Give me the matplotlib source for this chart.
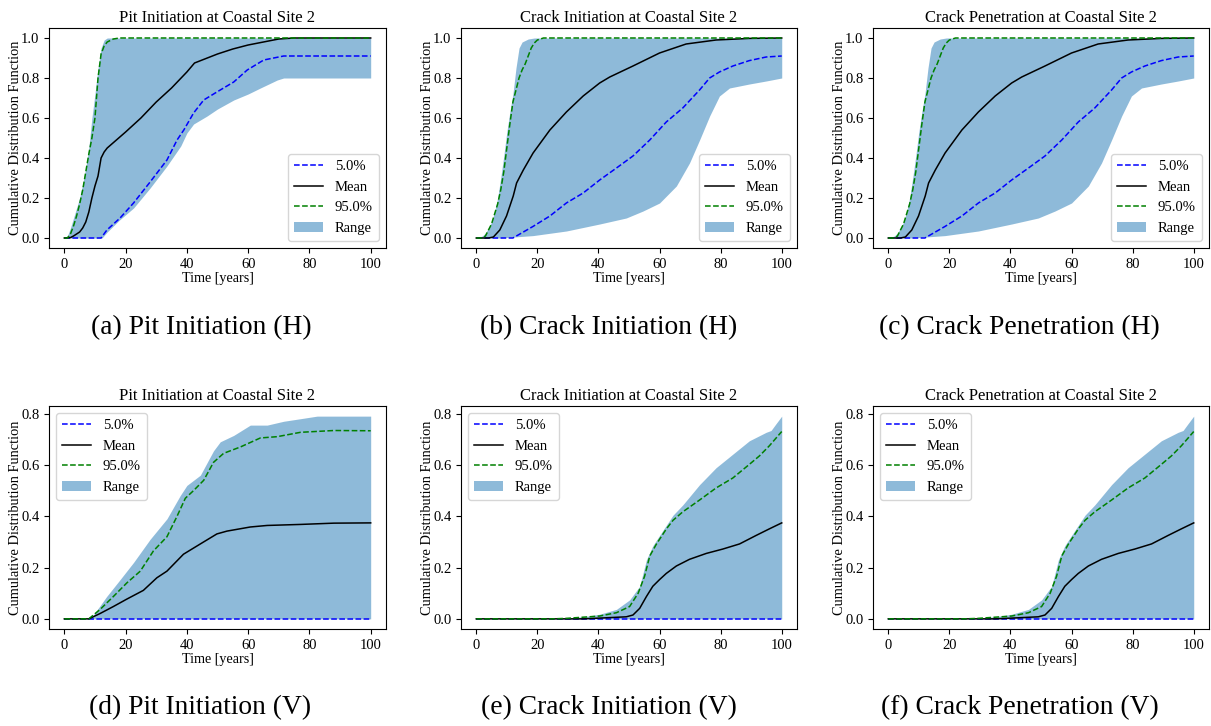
import matplotlib
matplotlib.use("Agg")
import matplotlib.pyplot as plt
import numpy as np

plt.rcParams['font.family'] = ['Liberation Serif', 'DejaVu Serif']
plt.rcParams['mathtext.fontset'] = 'stix'

# ---------------- data ----------------
# (a) Pit Initiation (H)
a_up_t = [0, 1, 2, 3, 4, 5, 6, 7, 8, 9, 10, 11, 12, 13, 14, 100]
a_up_v = [0, 0.01, 0.05, 0.1, 0.15, 0.2, 0.27, 0.35, 0.45, 0.6, 0.72, 0.85, 0.95, 0.99, 1.0, 1.0]
a_lo_t = [0, 12.3, 14, 18, 22.6, 28, 33.5, 38, 40, 42.2, 46.6, 50, 55.3, 60, 64, 69.5, 71.6, 100]
a_lo_v = [0, 0, 0.03, 0.09, 0.15, 0.25, 0.36, 0.46, 0.525, 0.57, 0.61, 0.645, 0.69, 0.72, 0.75, 0.79, 0.80, 0.80]
a_p95_t = [0, 1, 2, 3, 4, 5, 6, 7, 8, 9, 10, 11, 12, 13, 14, 16, 18, 100]
a_p95_v = [0, 0, 0.02, 0.06, 0.11, 0.17, 0.24, 0.33, 0.42, 0.5, 0.6, 0.8, 0.92, 0.96, 0.98, 0.995, 1.0, 1.0]
a_mean_t = [0, 2, 3, 4, 5, 6, 7, 8, 9, 10, 11, 12, 13, 14, 20, 25, 30, 35, 40, 42.5, 45, 50, 55, 60, 65, 70, 75, 100]
a_mean_v = [0, 0.002, 0.01, 0.02, 0.03, 0.05, 0.08, 0.13, 0.2, 0.26, 0.31, 0.4, 0.43, 0.45, 0.53, 0.6, 0.68, 0.75, 0.83, 0.875, 0.89, 0.92, 0.945, 0.965, 0.98, 0.995, 1.0, 1.0]
a_p5_t = [0, 12, 13.9, 18.2, 22.6, 28, 33.5, 36.8, 39, 42.2, 45.5, 49.8, 55.3, 59.7, 65.1, 71.6, 100]
a_p5_v = [0, 0, 0.04, 0.1, 0.175, 0.28, 0.39, 0.49, 0.54, 0.625, 0.69, 0.73, 0.78, 0.84, 0.89, 0.91, 0.91]

# (b) Crack Initiation (H)
b_up_t = [0, 2, 3, 4, 5, 6, 7, 8, 9, 10, 11, 12, 13, 14, 15, 17, 19, 100]
b_up_v = [0, 0.01, 0.025, 0.05, 0.08, 0.13, 0.2, 0.3, 0.41, 0.53, 0.63, 0.72, 0.85, 0.95, 0.98, 0.995, 1.0, 1.0]
b_lo_t = [0, 7.7, 18.6, 29.5, 40.4, 49.1, 54.6, 60, 65.5, 69.8, 73.1, 76.4, 79.6, 82.9, 89.4, 94.9, 100]
b_lo_v = [0, 0.0, 0.012, 0.035, 0.07, 0.1, 0.135, 0.175, 0.26, 0.375, 0.49, 0.61, 0.71, 0.75, 0.77, 0.785, 0.80]
b_p95_t = [0, 2, 3, 4, 5, 6, 7, 8, 9, 10, 11, 12, 13, 14, 15, 16, 17, 18, 19, 20, 22, 100]
b_p95_v = [0, 0, 0.01, 0.04, 0.07, 0.12, 0.17, 0.24, 0.33, 0.45, 0.57, 0.68, 0.74, 0.8, 0.84, 0.87, 0.91, 0.95, 0.975, 0.99, 1.0, 1.0]
b_mean_t = [0, 4, 5.6, 7.7, 9.9, 12.1, 13.2, 15.4, 18.6, 24.1, 29.5, 35, 40.4, 43.7, 51.3, 60, 68.7, 78.5, 89.4, 100]
b_mean_v = [0, 0.0, 0.005, 0.04, 0.11, 0.21, 0.275, 0.34, 0.425, 0.54, 0.63, 0.71, 0.775, 0.805, 0.86, 0.925, 0.97, 0.99, 0.998, 1.0]
b_p5_t = [0, 12, 18.6, 24.1, 29.5, 35, 40.4, 45.9, 51.3, 56.8, 62.2, 67.6, 73.1, 76.4, 79.6, 84, 89.4, 94.9, 100]
b_p5_v = [0, 0, 0.058, 0.11, 0.175, 0.225, 0.29, 0.35, 0.41, 0.49, 0.58, 0.65, 0.74, 0.8, 0.83, 0.86, 0.887, 0.905, 0.91]

# (c) Crack Penetration (H)
c_up_t, c_up_v = list(b_up_t), list(b_up_v)
c_lo_t, c_lo_v = list(b_lo_t), list(b_lo_v)
c_p95_t, c_p95_v = list(b_p95_t), list(b_p95_v)
c_mean_t, c_mean_v = list(b_mean_t), list(b_mean_v)
c_p5_t, c_p5_v = list(b_p5_t), list(b_p5_v)

# (d) Pit Initiation (V)
d_up_t = [0, 7, 9.5, 13.8, 18.2, 22.6, 28, 33.5, 37.8, 40, 44.4, 48.7, 50.9, 55.3, 60.7, 66.2, 71.6, 77.1, 82.5, 100]
d_up_v = [0, 0, 0.015, 0.087, 0.153, 0.22, 0.31, 0.39, 0.48, 0.52, 0.56, 0.655, 0.69, 0.715, 0.755, 0.755, 0.77, 0.78, 0.79, 0.79]
d_lo_t = [0, 100]
d_lo_v = [0, 0]
d_p95_t = [0, 8, 11.7, 16, 20.4, 24.8, 29.1, 33.5, 36.8, 39.5, 42.2, 45.5, 48.7, 52, 57.5, 64, 69.5, 77.1, 88, 100]
d_p95_v = [0, 0, 0.037, 0.087, 0.14, 0.186, 0.265, 0.32, 0.40, 0.47, 0.5, 0.54, 0.61, 0.645, 0.67, 0.705, 0.71, 0.727, 0.734, 0.733]
d_mean_t = [0, 8, 11.7, 16, 20.4, 25.8, 30.2, 33.5, 38.9, 44.4, 49.8, 53.1, 60.7, 66.2, 77.1, 88, 100]
d_mean_v = [0, 0, 0.021, 0.048, 0.077, 0.111, 0.16, 0.186, 0.252, 0.292, 0.331, 0.342, 0.358, 0.364, 0.368, 0.373, 0.374]
d_p5_t = [0, 100]
d_p5_v = [0, 0]

# (e) Crack Initiation (V)
e_up_t = [0, 25, 29.5, 35, 40.4, 45.9, 50.2, 53.5, 55.7, 57.8, 60, 64.4, 67.6, 73.1, 78.5, 84, 89.4, 94.9, 96.5, 98.1, 100]
e_up_v = [0, 0, 0.003, 0.008, 0.018, 0.037, 0.074, 0.127, 0.23, 0.285, 0.325, 0.404, 0.444, 0.523, 0.589, 0.642, 0.694, 0.727, 0.734, 0.76, 0.79]
e_lo_t = [0, 100]
e_lo_v = [0, 0]
e_p95_t = [0, 25, 29.5, 40.4, 45.9, 50.2, 53, 55.1, 56.8, 58.9, 62.2, 64.4, 67.6, 73.1, 78.5, 84, 89.4, 92.7, 96, 100]
e_p95_v = [0, 0, 0.002, 0.011, 0.024, 0.048, 0.1, 0.166, 0.245, 0.29, 0.35, 0.384, 0.417, 0.463, 0.51, 0.549, 0.602, 0.635, 0.675, 0.73]
e_mean_t = [0, 35, 40.4, 49.1, 51.3, 53.5, 55.7, 57.8, 60, 62.2, 65.5, 69.8, 75.3, 80.7, 86.2, 91.6, 96, 100]
e_mean_v = [0, 0, 0.003, 0.008, 0.015, 0.041, 0.087, 0.127, 0.153, 0.177, 0.206, 0.232, 0.255, 0.272, 0.292, 0.325, 0.351, 0.374]
e_p5_t = [0, 100]
e_p5_v = [0, 0]

# (f) Crack Penetration (V)
f_up_t, f_up_v = list(e_up_t), list(e_up_v)
f_lo_t, f_lo_v = list(e_lo_t), list(e_lo_v)
f_p95_t, f_p95_v = list(e_p95_t), list(e_p95_v)
f_mean_t, f_mean_v = list(e_mean_t), list(e_mean_v)
f_p5_t, f_p5_v = list(e_p5_t), list(e_p5_v)

titles = ["Pit Initiation at Coastal Site 2", "Crack Initiation at Coastal Site 2",
          "Crack Penetration at Coastal Site 2"] * 2
captions = ["(a) Pit Initiation (H)", "(b) Crack Initiation (H)", "(c) Crack Penetration (H)",
            "(d) Pit Initiation (V)", "(e) Crack Initiation (V)", "(f) Crack Penetration (V)"]
legend_labels = ["5.0%", "Mean", "95.0%", "Range"]

panels = [
    (a_up_t, a_up_v, a_lo_t, a_lo_v, a_p5_t, a_p5_v, a_mean_t, a_mean_v, a_p95_t, a_p95_v),
    (b_up_t, b_up_v, b_lo_t, b_lo_v, b_p5_t, b_p5_v, b_mean_t, b_mean_v, b_p95_t, b_p95_v),
    (c_up_t, c_up_v, c_lo_t, c_lo_v, c_p5_t, c_p5_v, c_mean_t, c_mean_v, c_p95_t, c_p95_v),
    (d_up_t, d_up_v, d_lo_t, d_lo_v, d_p5_t, d_p5_v, d_mean_t, d_mean_v, d_p95_t, d_p95_v),
    (e_up_t, e_up_v, e_lo_t, e_lo_v, e_p5_t, e_p5_v, e_mean_t, e_mean_v, e_p95_t, e_p95_v),
    (f_up_t, f_up_v, f_lo_t, f_lo_v, f_p5_t, f_p5_v, f_mean_t, f_mean_v, f_p95_t, f_p95_v),
]

# ---------------- layout (pixels) ----------------
W, H = 1211, 726
fig = plt.figure(figsize=(W / 100, H / 100), dpi=100)

boxes = [  # left, right, top, bottom in pixels
    (49, 386, 28, 248), (461, 797, 28, 248), (873, 1209, 28, 248),
    (49, 386, 406, 629), (461, 797, 406, 629), (873, 1209, 406, 629),
]
cap_pos = [(201, 328), (609, 328), (1019, 328), (200, 708), (609, 708), (1020, 708)]

fs = 10.5
for i, (box, pdata) in enumerate(zip(boxes, panels)):
    l, r, t, b = box
    ax = fig.add_axes([l / W, 1 - b / H, (r - l) / W, (b - t) / H])
    up_t, up_v, lo_t, lo_v, p5_t, p5_v, m_t, m_v, p95_t, p95_v = pdata
    tt = np.union1d(up_t, lo_t)
    upper = np.interp(tt, up_t, up_v)
    lower = np.interp(tt, lo_t, lo_v)
    ax.plot(p5_t, p5_v, color='blue', ls='--', lw=1.1, label=legend_labels[0])
    ax.plot(m_t, m_v, color='black', ls='-', lw=1.1, label=legend_labels[1])
    ax.plot(p95_t, p95_v, color='green', ls='--', lw=1.1, label=legend_labels[2])
    ax.fill_between(tt, lower, upper, color='tab:blue', alpha=0.5, lw=0, label=legend_labels[3])
    ax.set_title(titles[i], fontsize=12.0, pad=4)
    ax.set_xlabel("Time [years]", fontsize=10.2, labelpad=1)
    ax.set_ylabel("Cumulative Distribution Function", fontsize=10.4)
    ax.yaxis.set_label_coords(-27 / (r - l), 0.5)
    ax.tick_params(labelsize=fs)
    ax.set_xticks([0, 20, 40, 60, 80, 100])
    if i < 3:
        ax.set_yticks([0, 0.2, 0.4, 0.6, 0.8, 1.0])
        ax.legend(loc='lower right', fontsize=fs)
    else:
        ax.set_yticks([0, 0.2, 0.4, 0.6, 0.8])
        ax.legend(loc='upper left', fontsize=fs)
    cx, cy = cap_pos[i]
    fig.text(cx / W, 1 - cy / H, captions[i], ha='center', va='center', fontsize=19.8)

fig.savefig("out.png", dpi=100)
